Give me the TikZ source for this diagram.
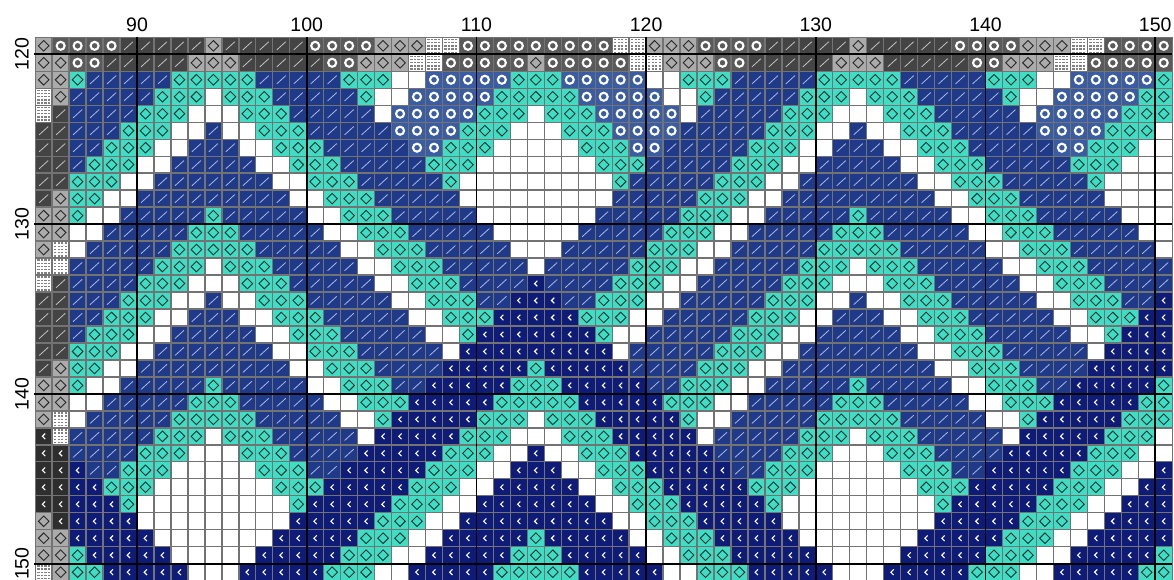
\documentclass[tikz,border=0pt]{standalone}
\usepackage{fontspec}
\setmainfont{Liberation Sans}
\definecolor{cT}{HTML}{40DDC5}
\definecolor{cB}{HTML}{203A8A}
\definecolor{cO}{HTML}{3A5CA3}
\definecolor{cN}{HTML}{0E1C78}
\definecolor{cg}{HTML}{444444}
\definecolor{cc}{HTML}{5A5A5A}
\definecolor{cL}{HTML}{ABABAB}
\definecolor{ck}{HTML}{2E2E2E}
\definecolor{cGrid}{HTML}{737373}
\definecolor{cSlashB}{RGB}{175,185,220}
\definecolor{cSlashG}{RGB}{195,195,195}
\definecolor{cDiaT}{RGB}{15,50,50}
\definecolor{cDiaG}{RGB}{40,40,40}
\newcount\cx
\newcount\cy
\def\cw{16.97}
\def\ch{16.98}
\def\xo{35.2}
\def\yo{37.32}
\tikzset{
  x=1pt,y=-1pt,
  slashmark/.style={line width=0.8pt,line cap=round},
  diamondmark/.style={line width=0.9pt,line join=miter},
  ringmark/.style={draw=white,line width=2.1pt},
  chevmark/.style={draw=white,line width=1.1pt},
  gridline/.style={draw=cGrid,line width=1.35pt},
  heavyline/.style={draw=black,line width=1.8pt},
  axislabel/.style={font=\fontsize{19.5}{20}\selectfont,inner sep=0pt,text=black}
}
\def\cbg#1{\pgfmathsetmacro\px{\xo+\cw*\the\cx}\pgfmathsetmacro\py{\yo+\ch*\the\cy}%
  \fill[#1] (\px,\py) rectangle ++(\cw,\ch);}
\def\symslash#1{\draw[slashmark,draw=#1] (\px,\py) ++(\cw/2-4.4,\ch/2+4) -- ++(8.8,-8);}
\def\symdia#1{\draw[diamondmark,draw=#1] (\px,\py) ++(\cw/2-5.3,\ch/2) -- ++(5.3,-5.3) -- ++(5.3,5.3) -- ++(-5.3,5.3) -- cycle;}
\def\symring{\draw[ringmark] (\px,\py) ++(\cw/2,\ch/2) circle[radius=4];}
\def\symchev{\draw[chevmark] (\px,\py) ++(\cw/2+1.5,\ch/2-2.8) -- ++(-2.8,2.8) -- ++(2.8,2.8);}
\def\cellb{\cbg{cB}\symslash{cSlashB}}
\def\cellt{\cbg{cT}\symdia{cDiaT}}
\def\cellw{\cbg{white}}
\def\cello{\cbg{cO}\symring}
\def\celln{\cbg{cN}\symchev}
\def\cellg{\cbg{cg}\symslash{cSlashG}}
\def\cellc{\cbg{cc}\symring}
\def\cellG{\cbg{cL}\symdia{cDiaG}}
\def\cellk{\cbg{ck}\symchev}
\def\celld{\cbg{white}%
  \foreach \i in {0,...,3}{\foreach \j in {0,...,4}{%
    \fill[black!50] (\px,\py) ++(1.9+3.5*\i,1.4+3.2*\j) rectangle ++(2.4,1.4);}}}
\def\rowscan#1{\ifx#1\relax\else\csname cell#1\endcsname\advance\cx by 1 \expandafter\rowscan\fi}
\def\R#1{\cx=0 \rowscan#1\relax\advance\cy by 1 }
\begin{document}
\begin{tikzpicture}
\clip (0,0) rectangle (1174,580);
\fill[white] (0,0) rectangle (1174,580);
\cy=0
\R{Gccccg ggggGggggg ccccGGGddc ccccccccdd GGGccccggg ggGgggggcc ccGGGddccc c}
\R{GGccgg gggGGGgggg gccGGGddcc cccGcccccd dGGGccgggg gGGGgggggc cGGGddcccc c}
\R{GGtbbb bbtttttbbb bbtttwwooo ootttooooo wwtttbbbbb tttttbbbbb tttwwooooo t}
\R{dGbbbb btttwtttbb bbbtwwoooo otttttoooo owwtbbbbbt ttwtttbbbb btwwooooot t}
\R{dgbbbb tttwwwtttb bbbbwooooo tttwtttooo oowbbbbbtt twwwtttbbb bbwooooott t}
\R{ggbbbt ttwwbwwttt bbbbboooot ttwwwtttoo oobbbbbttt wwbwwtttbb bbboooottt w}
\R{ggbbtt twwbbbwwtt tbbbbboott twwwwwttto obbbbbtttw wbbbwwtttb bbbboottt w w}
\R{ggbttt wwbbbbbwwt ttbbbbbttt wwwwwwwttt bbbbbtttww bbbbbwwttt bbbbbtttww w}
\R{ggtttw wbbbbbbbww tttbbbbbtw wwwwwwwwtb bbbbtttwwb bbbbbbwwtt tbbbbbtwww w}
\R{gGttww bbbbbbbbbw wtttbbbbbw wwwwwwwwbb bbbtttwwbb bbbbbbbwwt ttbbbbbwww w}
\R{GGtwwb bbbbtbbbbb wwtttbbbbb wwwwwwwbbb bbtttwwbbb bbtbbbbbww tttbbbbbww w}
\R{GGwwbb bbbtttbbbb bwwtttbbbb bwwwwwbbbb btttwwbbbb btttbbbbbw wtttbbbbbw w}
\R{Gdwbbb bbtttttbbb bbwwtttbbb bbwwwbbbbb tttwwbbbbb tttttbbbbb wwtttbbbbb w}
\R{ddbbbb btttwtttbb bbbwwtttbb bbbwbbbbbt ttwwbbbbbt ttwtttbbbb bwwtttbbbb b}
\R{dgbbbb tttwwwtttb bbbbwwtttb bbbnbbbbtt twwbbbbbtt twwwtttbbb bbwwtttbbb b}
\R{ggbbbt ttwwbwwttt bbbbbwwttt bbnnnbbttt wwbbbbbttt wwbwwtttbb bbbwwtttbb n}
\R{ggbbtt twwbbbwwtt tbbbbbwwtt tnnnnntttw wbbbbbtttw wbbbwwtttb bbbbwwtttn n}
\R{ggbttt wwbbbbbwwt ttbbbbbwwt nnnnnnntww bbbbbtttww bbbbbwwttt bbbbbwwtnn n}
\R{ggtttw wbbbbbbbww tttbbbbbwn nnnnnnnnwb bbbbtttwwb bbbbbbwwtt tbbbbbwnnn n}
\R{gGttww bbbbbbbbbw wtttbbbbnn nnntnnnnnb bbbtttwwbb bbbbbbbwwt ttbbbbnnnn n}
\R{GGtwwb bbbbtbbbbb wwtttbbnnn nntttnnnnn bbtttwwbbb bbtbbbbbww tttbbnnnnn t}
\R{GGwwbb bbbtttbbbb bwwtttnnnn ntttttnnnn ntttwwbbbb btttbbbbbw wtttnnnnnt t}
\R{Gdwbbb bbtttttbbb bbwwtnnnnn tttwtttnnn nntwwbbbbb tttttbbbbb wwtnnnnntt t}
\R{kdbbbb btttwtttbb bbbwnnnnnt ttwwwtttnn nnnwbbbbbt ttwtttbbbb bwnnnnnttt w}
\R{kkbbbb tttwwwtttb bbbnnnnntt twwnwwtttn nnnnbbbbtt twwwtttbbb bnnnnntttw w}
\R{kknbbt ttwwwwwttt bbnnnnnttt wwnnnwwttt nnnnnbbttt wwwwwtttbb nnnnntttww n}
\R{kknntt twwwwwwwtt tnnnnntttw wnnnnnwwtt tnnnnntttw wwwwwwtttn nnnntttwwn n}
\R{kknnnt wwwwwwwwwt nnnnntttww nnnnnnnwwt ttnnnnntww wwwwwwwtnn nnntttwwnn n}
\R{Gknnnn wwwwwwwwwn nnnntttwwn nnnnnnnnww tttnnnnnww wwwwwwwnnn nntttwwnnn n}
\R{GGnnnn nwwwwwwwnn nnntttwwnn nnntnnnnnw wtttnnnnnw wwwwwwnnnn ntttwwnnnn n}
\R{GGtnnn nnwwwwwnnn nntttwwnnn nntttnnnnn wwtttnnnnn wwwwwnnnnn tttwwnnnnn t}
\R{dGttnn nnnwwwnnnn ntttwwnnnn ntttttnnnn nwwtttnnnn nwwwnnnnnt ttwwnnnnnt t}
% thin grid
\foreach \i in {0,...,67}{\draw[gridline] ({\xo+\cw*\i},\yo) -- ({\xo+\cw*\i},580);}
\foreach \j in {0,...,32}{\draw[gridline] (\xo,{\yo+\ch*\j}) -- ({\xo+\cw*67},{\yo+\ch*\j});}
% heavy decade lines
\foreach \i in {6,16,26,36,46,56,66}{\draw[heavyline] ({\xo+\cw*\i},\yo) -- ({\xo+\cw*\i},580);}
\foreach \j in {1,11,21,31}{\draw[heavyline] (34,{\yo+\ch*\j}) -- (1172,{\yo+\ch*\j});}
% axis labels
\foreach \i/\t in {6/90,16/100,26/110,36/120,46/130,56/140,66/150}{
  \node[axislabel,anchor=center] (top\t) at ({\xo+\cw*\i},24.5) {\t};}
\foreach \j/\t in {1/120,11/130,21/140,31/150}{
  \node[axislabel,anchor=center,rotate=90] (left\t) at (22,{\yo+\ch*\j}) {\t};}
\end{tikzpicture}
\end{document}
